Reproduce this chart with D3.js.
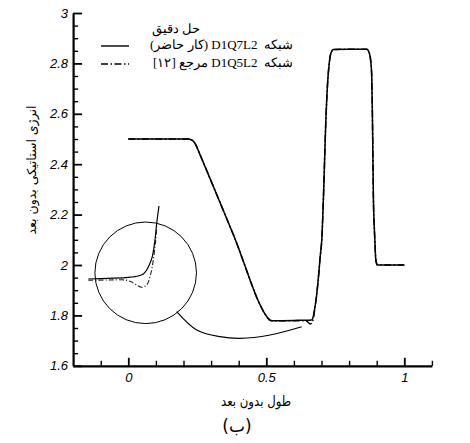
<!DOCTYPE html>
<html><head><meta charset="utf-8">
<script src="https://cdn.jsdelivr.net/npm/d3@7"></script>
<style>
html,body{margin:0;padding:0;background:#fff;}
svg{display:block;}
text.fa{white-space:pre;}
</style>
</head><body>
<svg id="chart" width="470" height="443"></svg>
<script>
// ---- data ----
const xTicks = [0, 0.5, 1];
const xMinorTicks = [-0.1, 0.1, 0.2, 0.3, 0.4, 0.6, 0.7, 0.8, 0.9, 1.1];
const yTicks = [1.6, 1.8, 2, 2.2, 2.4, 2.6, 2.8, 3];
const yMinorTicks = [1.65,1.7,1.75,1.85,1.9,1.95,2.05,2.1,2.15,2.25,2.3,2.35,2.45,2.5,2.55,2.65,2.7,2.75,2.85,2.9,2.95];

const seriesNames = ["حل دقیق", "شبکه  D1Q7L2 (کار حاضر)", "شبکه  D1Q5L2 مرجع [۱۲]"];
const xTitle = "طول بدون بعد";
const yTitle = "انرژی استاتیکی بدون بعد";
const caption = "(ب)";

// present work (solid)
const solidX = [0, 0.2, 0.217, 0.228, 0.238, 0.246, 0.253, 0.38, 0.507, 0.513, 0.52, 0.6, 0.664, 0.670, 0.675, 0.680, 0.688, 0.695, 0.701, 0.708, 0.715, 0.722, 0.728, 0.734, 0.743, 0.8, 0.864, 0.872, 0.878, 0.882, 0.885, 0.888, 0.892, 0.894, 0.896, 0.899, 0.903, 1.0];
const solidY = [2.5, 2.5, 2.5, 2.497, 2.488, 2.474, 2.456, 2.122, 1.788, 1.781, 1.779, 1.780, 1.782, 1.795, 1.825, 1.86, 1.94, 2.03, 2.10, 2.30, 2.55, 2.72, 2.80, 2.84, 2.855, 2.856, 2.856, 2.845, 2.813, 2.75, 2.55, 2.27, 2.13, 2.08, 2.03, 2.008, 2.0, 2.0];
// reference [12] (dash-dot)
const dashX = [0, 0.2, 0.217, 0.228, 0.238, 0.246, 0.253, 0.38, 0.507, 0.513, 0.52, 0.63, 0.645, 0.652, 0.658, 0.664, 0.670, 0.675, 0.680, 0.688, 0.695, 0.701, 0.708, 0.715, 0.722, 0.728, 0.734, 0.743, 0.8, 0.864, 0.872, 0.878, 0.882, 0.885, 0.888, 0.892, 0.894, 0.896, 0.899, 0.903, 1.0];
const dashY = [2.5, 2.5, 2.5, 2.497, 2.488, 2.474, 2.456, 2.122, 1.788, 1.781, 1.779, 1.779, 1.778, 1.772, 1.766, 1.768, 1.785, 1.82, 1.86, 1.94, 2.03, 2.10, 2.30, 2.55, 2.72, 2.80, 2.84, 2.855, 2.856, 2.856, 2.845, 2.813, 2.75, 2.55, 2.27, 2.13, 2.08, 2.03, 2.008, 2.0, 2.0];

// magnified inset (same units, own scales)
const insetSolidX = [0.5606, 0.6006, 0.6406, 0.6606, 0.6706, 0.6774, 0.684, 0.6886, 0.694, 0.6974, 0.702];
const insetSolidY = [1.7756, 1.7787, 1.7831, 1.7889, 1.7978, 1.8156, 1.8453, 1.8747, 1.9489, 2.0231, 2.10];
const insetDashX = [0.5606, 0.6006, 0.634, 0.644, 0.654, 0.6674, 0.6774, 0.684, 0.6906, 0.6954, 0.6974];
const insetDashY = [1.7698, 1.7711, 1.7711, 1.7653, 1.7533, 1.7387, 1.7489, 1.7858, 1.86, 1.9489, 2.008];

// inset circle (centre, radius in x units) and connector
const circleCentre = [0.063, 1.969];
const circleRadius = 0.184;
const connectorX = [0.1754, 0.2478, 0.3322, 0.4047, 0.5134, 0.6283];
const connectorY = [1.8147, 1.742, 1.7155, 1.709, 1.7222, 1.755];

// ---- drawing ----
const svg = d3.select("#chart");
const x = d3.scaleLinear().domain([-0.2, 1.1]).range([73.1, 431.9]);
const y = d3.scaleLinear().domain([1.6, 3]).range([365.8, 13]);
const xi = d3.scaleLinear().domain([0.6, 0.7]).range([108, 158]);
const yi = d3.scaleLinear().domain([1.7, 2.2]).range([296, 183.5]);

const tickFont = "'Liberation Sans', Arial, sans-serif";

// minor ticks
svg.append("g").attr("transform", `translate(${x(-0.2)},0)`)
  .call(d3.axisLeft(y).tickValues(yMinorTicks).tickSize(-5).tickFormat(""))
  .call(g => g.select(".domain").remove())
  .selectAll("line").attr("stroke", "#000").attr("stroke-width", 1.4);
svg.append("g").attr("transform", `translate(0,${y(1.6)})`)
  .call(d3.axisBottom(x).tickValues(xMinorTicks).tickSize(-5).tickFormat(""))
  .call(g => g.select(".domain").remove())
  .selectAll("line").attr("stroke", "#000").attr("stroke-width", 1.4);

// major axes
const yAxis = svg.append("g").attr("transform", `translate(${x(-0.2)},0)`)
  .call(d3.axisLeft(y).tickValues(yTicks).tickSize(-9).tickSizeOuter(0).tickPadding(5).tickFormat(d => String(d)));
const xAxis = svg.append("g").attr("transform", `translate(0,${y(1.6)})`)
  .call(d3.axisBottom(x).tickValues(xTicks).tickSize(-8).tickSizeOuter(0).tickPadding(7).tickFormat(d => String(d)));
[yAxis, xAxis].forEach(g => {
  g.select(".domain").attr("stroke", "#000").attr("stroke-width", 2.2);
  g.selectAll(".tick line").attr("stroke", "#000").attr("stroke-width", 1.8);
  g.selectAll("text").attr("font-family", tickFont).attr("font-style", "italic")
    .attr("font-size", 13).attr("fill", "#000");
});

// series
const line = d3.line().x(d => x(d[0])).y(d => y(d[1])).curve(d3.curveMonotoneX);
svg.append("path").datum(d3.zip(dashX, dashY)).attr("d", line)
  .attr("fill", "none").attr("stroke", "#000").attr("stroke-width", 1.5)
  .attr("stroke-dasharray", "7,2.5,1.5,2.5");
svg.append("path").datum(d3.zip(solidX, solidY)).attr("d", line)
  .attr("fill", "none").attr("stroke", "#000").attr("stroke-width", 1.5);

// inset
const cx = x(circleCentre[0]), cy = y(circleCentre[1]);
svg.append("circle").attr("cx", cx).attr("cy", cy)
  .attr("r", x(circleCentre[0] + circleRadius) - cx)
  .attr("fill", "none").attr("stroke", "#000").attr("stroke-width", 1);
const iline = d3.line().x(d => xi(d[0])).y(d => yi(d[1])).curve(d3.curveCatmullRom);
svg.append("path").datum(d3.zip(insetDashX, insetDashY)).attr("d", iline)
  .attr("fill", "none").attr("stroke", "#222").attr("stroke-width", 1.1)
  .attr("stroke-dasharray", "5,2,1.2,2");
svg.append("path").datum(d3.zip(insetSolidX, insetSolidY)).attr("d", iline)
  .attr("fill", "none").attr("stroke", "#000").attr("stroke-width", 1.2);
const cline = d3.line().x(d => x(d[0])).y(d => y(d[1])).curve(d3.curveCatmullRom);
svg.append("path").datum(d3.zip(connectorX, connectorY)).attr("d", cline)
  .attr("fill", "none").attr("stroke", "#000").attr("stroke-width", 1.2);

// helper: place rtl text so that a chosen edge of its box sits at a target x
function placeText(sel, edge, target) {
  const b = sel.node().getBBox();
  const cur = edge === "right" ? b.x + b.width : edge === "left" ? b.x : b.x + b.width / 2;
  sel.attr("x", +sel.attr("x") + (target - cur));
}

// legend
const legendFont = "'Liberation Serif', 'DejaVu Serif', serif";
const rows = [];
[[seriesNames[1], 49, null], [seriesNames[2], 67, "7,2.5,1.5,2.5"]].forEach(([t, yy, dash]) => {
  const tt = svg.append("text").attr("class", "fa").attr("x", 220).attr("y", yy).attr("direction", "rtl")
    .attr("text-anchor", "middle").attr("font-family", legendFont).attr("font-size", 13)
    .text(t);
  placeText(tt, "right", 293);
  rows.push(tt);
  const l = svg.append("line").attr("x1", 101).attr("x2", 129).attr("y1", yy - 3).attr("y2", yy - 3)
    .attr("stroke", "#000").attr("stroke-width", 1.4);
  if (dash) l.attr("stroke-dasharray", dash);
});
const leftEdge = rows[0].node().getBBox().x;
const t0 = svg.append("text").attr("class", "fa").attr("x", 150).attr("y", 33).attr("direction", "rtl")
  .attr("text-anchor", "middle").attr("font-family", legendFont).attr("font-size", 13)
  .text(seriesNames[0]);
placeText(t0, "left", leftEdge + 2);

// axis titles
const xt = svg.append("text").attr("class", "fa").attr("x", 255).attr("y", 406).attr("text-anchor", "middle")
  .attr("direction", "rtl").attr("font-family", "'DejaVu Sans', sans-serif").attr("font-size", 14)
  .attr("textLength", 70).attr("lengthAdjust", "spacingAndGlyphs")
  .text(xTitle);
placeText(xt, "center", 256);
svg.append("text").attr("class", "fa").attr("transform", "translate(36,170) rotate(-90)").attr("text-anchor", "middle")
  .attr("direction", "rtl").attr("font-family", "'DejaVu Sans', sans-serif").attr("font-size", 12.5)
  .text(yTitle);
const cap = svg.append("text").attr("class", "fa").attr("x", 237).attr("y", 432).attr("text-anchor", "middle")
  .attr("direction", "rtl").attr("font-family", "'DejaVu Sans', sans-serif").attr("font-size", 17)
  .text(caption);
placeText(cap, "center", 237);
</script>
</body></html>
